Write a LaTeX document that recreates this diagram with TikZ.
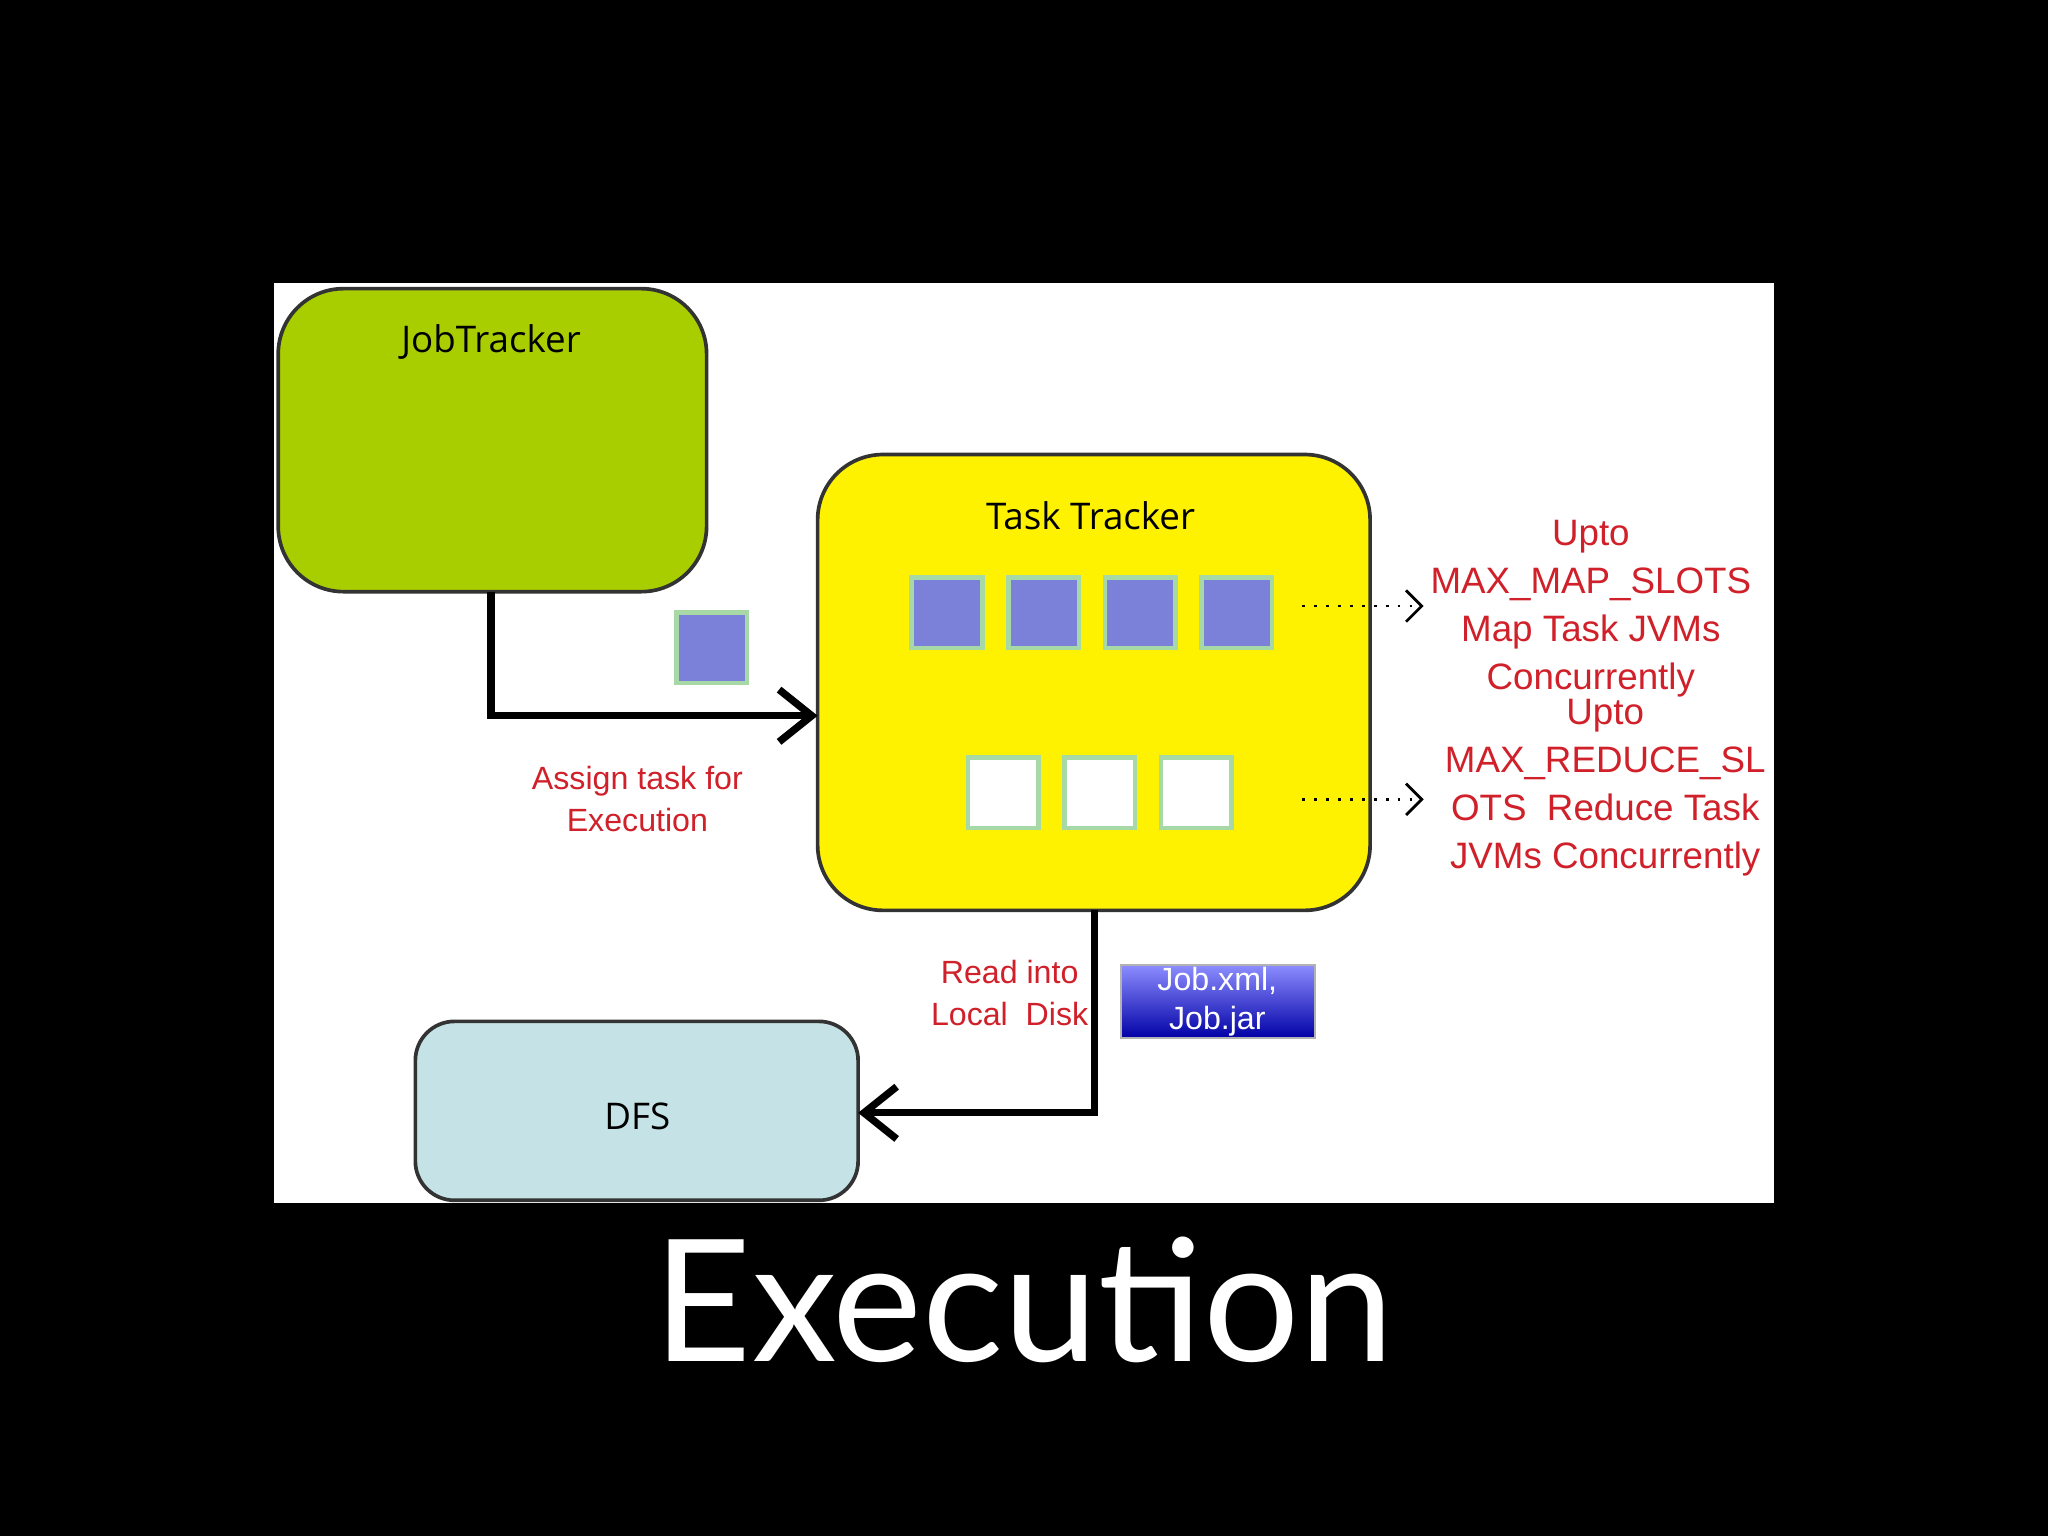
\documentclass[tikz,border=0pt]{standalone}
\usepackage{fontspec}
\setmainfont{Liberation Sans}
\newfontfamily\labfont{Open Sans}
\newfontfamily\titlefont{Lato}
\usetikzlibrary{arrows.meta}
\definecolor{jtgreen}{HTML}{A8CE00}
\definecolor{slotblue}{HTML}{7B80D8}
\definecolor{dfsblue}{HTML}{C5E3E6}
\definecolor{redtxt}{HTML}{D0202A}
\tikzset{
  bigbox/.style={draw=black!80, line width=0.8pt, rounded corners=0.5cm},
  slot/.style={draw=gray!60!green!50, line width=1pt, minimum size=0.54cm, inner sep=0},
  redlab/.style={text=redtxt, align=center, font=\fontsize{7}{9.2}\selectfont},
  boxlab/.style={font=\labfont\fontsize{8}{10}\selectfont},
  conn/.style={line width=1.6pt, -{Straight Barb[length=2.5mm,width=4mm]}},
  dotarr/.style={dotted, line width=0.6pt, -{Straight Barb[length=1.2mm,width=2.4mm]}}
}
\begin{document}
\begin{tikzpicture}[x=0.01cm,y=-0.01cm]
\fill[black] (0,0) rectangle (1568,1176);
\fill[white] (210,217) rectangle (1358,921);
\draw[bigbox, fill=jtgreen] (213,221) rectangle (541,453);
\node[boxlab] (jt) at (376,262) {JobTracker};
\coordinate (jtb) at (376,453);
\draw[bigbox, fill=yellow] (626,348) rectangle (1049,697);
\node[boxlab] (tt) at (835,395) {Task Tracker};
\coordinate (ttl) at (626,548);
\coordinate (ttb) at (838,697);
\foreach \x/\n in {725/1,799/2,873/3,947/4} \node[slot, fill=slotblue] (m\n) at (\x,469) {};
\node[slot, fill=slotblue] (task) at (545,496) {};
\foreach \x/\n in {768/1,842/2,916/3} \node[slot, fill=white] (r\n) at (\x,607) {};
\draw[bigbox, fill=dfsblue, rounded corners=0.3cm] (318,782) rectangle (657,919);
\node[boxlab] (dfs) at (488,855) {DFS};
\coordinate (dfsr) at (657,852);
\draw[conn] (jtb) |- (ttl);
\draw[conn] (ttb) |- (dfsr);
\node[redlab] (assign) at (488,612) {Assign task for\\Execution};
\node[redlab] (read) at (773,760) {Read into\\Local\ \ Disk};
\coordinate (d1s) at (997,464); \coordinate (d1e) at (1090,464);
\coordinate (d2s) at (997,612); \coordinate (d2e) at (1090,612);
\draw[dotarr] (d1s) -- (d1e);
\draw[dotarr] (d2s) -- (d2e);
\node[redlab, font=\fontsize{8}{10.4}\selectfont] (mapl) at (1218,466) {Upto\\MAX\_MAP\_SLOTS\\Map Task JVMs\\Concurrently};
\node[redlab, font=\fontsize{8}{10.4}\selectfont] (redl) at (1229,603) {Upto\\MAX\_REDUCE\_SL\\OTS\ \ Reduce Task\\JVMs Concurrently};
\shade[top color=blue!45!white, bottom color=blue!65!black, draw=gray!60] (858,739) rectangle (1007,795);
\node[text=white, align=center, font=\fontsize{7}{8.5}\selectfont] (job) at (932,767) {Job.xml,\\Job.jar};
\node[text=white, font=\titlefont\fontsize{37}{40}\selectfont] (title) at (784,995) {Execution};
\end{tikzpicture}
\end{document}
